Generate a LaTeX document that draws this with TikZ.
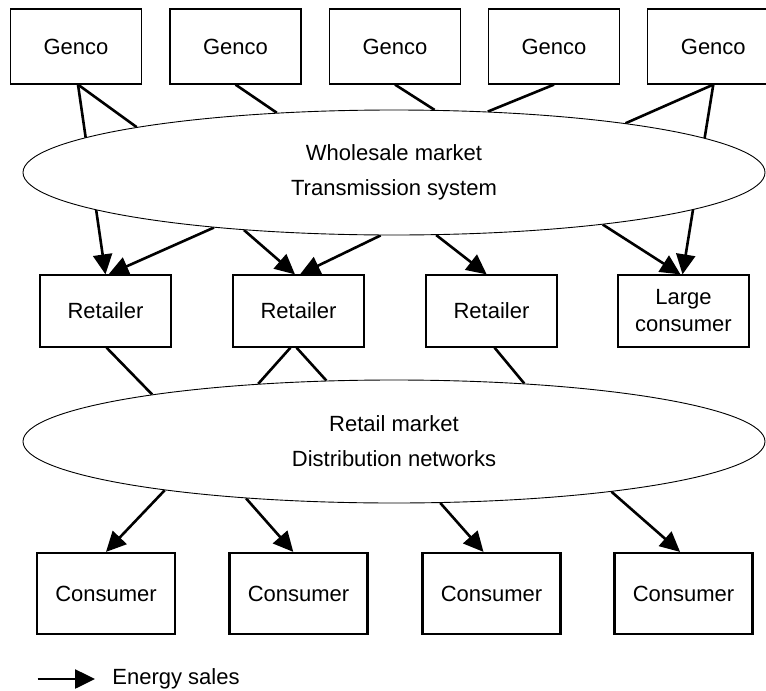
\documentclass[tikz,border=0pt]{standalone}
\usepackage{fontspec}
\setmainfont{Liberation Sans}
\usetikzlibrary{arrows.meta,positioning,shapes.geometric,backgrounds}
\tikzstyle{party}  = [draw,line width=0.6pt,minimum width=65.5pt,minimum height=37.5pt,inner sep=0pt,align=center]
\tikzstyle{buyer}  = [draw,line width=1.1pt,minimum width=69pt,minimum height=40.5pt,inner sep=0pt]
\tikzstyle{market} = [draw,ellipse,line width=0.45pt,fill=white,minimum width=371pt,inner sep=0pt,align=center,font=\fontsize{11}{17.5}\selectfont]
\tikzstyle{link}   = [line width=1.3pt]
\tikzstyle{sale}   = [line width=1.3pt,-{Triangle[length=10pt,width=9.5pt]}]

\begin{document}
\begin{tikzpicture}[x=0.5pt,y=-0.5pt,font=\fontsize{11}{13.5}\selectfont]
  \useasboundingbox (0,0) rectangle (766,691);

  % gencos
  \foreach \i/\x in {1/76,2/235.5,3/395,4/554,5/713.3}
    \node (g\i)[party] at (\x,46.5) {Genco};

  \node (wsm)[market,minimum height=62.5pt] at (394,172.5) {Wholesale market\\Transmission system};

  % retailers
  \node (r1)[party,minimum height=36pt] at (105.5,311) {Retailer};
  \node (r2)[party,minimum height=36pt] at (298.5,311) {Retailer};
  \node (r3)[party,minimum height=36pt] at (491.5,311) {Retailer};
  \node (lc)[party,minimum height=36pt] at (683.5,311) {Large\\consumer};

  \node (rtm)[market,minimum height=61.5pt] at (394,441.5) {Retail market\\Distribution networks};

  % consumers
  \foreach \i/\x in {1/106,2/298.5,3/491.5,4/683.5}
    \node (c\i)[buyer] at (\x,593.5) {Consumer};

  \begin{scope}[on background layer]
    \draw[link] ([xshift=1pt]g1.south) -- (wsm.170.5);
    \draw[sale] ([xshift=1pt]g1.south) -- (r1.north);
    \draw[link] (g2.south) -- (wsm.153.5);
    \draw[link] (g3.south) -- (wsm.57.3);
    \draw[link] (g4.south) -- (wsm.33.5);
    \draw[link] (g5.south) -- (wsm.12);
    \draw[sale] (g5.south) -- ([xshift=-0.5pt]lc.north);

    \draw[sale] (wsm.197.5) -- ([xshift=1.5pt]r1.north);
    \draw[sale] (wsm.201.7) -- ([xshift=-1.75pt]r2.north);
    \draw[sale] (wsm.258.4) -- ([xshift=0.75pt]r2.north);
    \draw[sale] (wsm.304.1) -- ([xshift=-2.4pt]r3.north);
    \draw[sale] (wsm.346.2) -- ([xshift=-1.5pt]lc.north);

    \draw[link] ([xshift=0.5pt]r1.south) -- (rtm.169.4);
    \draw[link] ([xshift=-4pt]r2.south) -- (rtm.157.2);
    \draw[link] ([xshift=-1pt]r2.south) -- (rtm.138.8);
    \draw[link] ([xshift=1.5pt]r3.south) -- (rtm.24.2);

    \draw[sale] (rtm.192.1) -- (c1.north);
    \draw[sale] (rtm.201.7) -- ([xshift=-2.6pt]c2.north);
    \draw[sale] (rtm.307.1) -- ([xshift=-4pt]c3.north);
    \draw[sale] (rtm.347.5) -- ([xshift=-1.7pt]c4.north);
  \end{scope}

  % legend
  \coordinate (legA) at (37.6,679);
  \coordinate (legB) at (95,679);
  \draw[sale] (legA) -- (legB);
  \node (legtext)[right=8.5pt of legB,inner sep=0pt] {Energy sales};
\end{tikzpicture}
\end{document}
